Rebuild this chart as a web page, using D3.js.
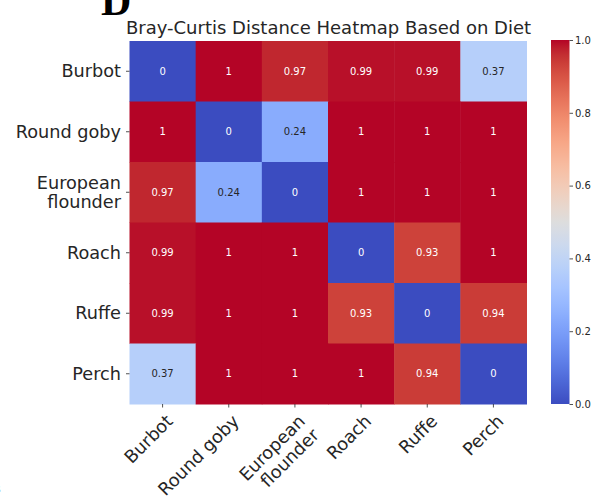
<!DOCTYPE html>
<html><head><meta charset="utf-8">
<script src="https://cdn.jsdelivr.net/npm/d3@7/dist/d3.min.js"></script>
<style>body{margin:0;background:#fff}svg{display:block}</style>
</head><body><svg id="c" width="605" height="498" font-family="DejaVu Sans"></svg>
<script>
const species = ["Burbot","Round goby","European\nflounder","Roach","Ruffe","Perch"];
const rowBurbot    = [0, 1, 0.97, 0.99, 0.99, 0.37];
const rowRoundGoby = [1, 0, 0.24, 1, 1, 1];
const rowFlounder  = [0.97, 0.24, 0, 1, 1, 1];
const rowRoach     = [0.99, 1, 1, 0, 0.93, 1];
const rowRuffe     = [0.99, 1, 1, 0.93, 0, 0.94];
const rowPerch     = [0.37, 1, 1, 1, 0.94, 0];
const matrix = [rowBurbot,rowRoundGoby,rowFlounder,rowRoach,rowRuffe,rowPerch];
const cbTicks = [0,0.2,0.4,0.6,0.8,1.0];
const title = "Bray-Curtis Distance Heatmap Based on Diet";

const coolwarmStops = [[59,76,192],[68,90,204],[77,104,215],[87,117,225],[98,130,234],[108,142,241],[119,154,247],[130,165,251],[141,176,254],[152,185,255],[163,194,255],[174,201,253],[184,208,249],[194,213,244],[204,217,238],[213,219,230],[221,221,221],[229,216,209],[236,211,197],[241,204,184],[245,196,172],[247,187,159],[247,177,147],[247,166,134],[244,154,123],[241,141,111],[236,127,99],[229,112,89],[222,96,77],[213,80,66],[203,62,56],[192,40,47],[180,4,38]];
const cw = d3.piecewise(d3.interpolateRgb, coolwarmStops.map(c=>d3.rgb(c[0],c[1],c[2])));
const color = d3.scaleSequential(cw).domain([0,1]);

const svg = d3.select("#c");
const L=129.5,R=526.5,T=41,B=404;
const idx = d3.range(species.length);
const x = d3.scaleBand().domain(idx).range([L,R]);
const y = d3.scaleBand().domain(idx).range([T,B]);

function lum(c){const f=v=>{v/=255;return v<=0.03928?v/12.92:Math.pow((v+0.055)/1.055,2.4)};const r=d3.rgb(c);return 0.2126*f(r.r)+0.7152*f(r.g)+0.0722*f(r.b);}

const cells = [];
matrix.forEach((row,i)=>row.forEach((v,j)=>cells.push({i,j,v})));
svg.append("g").selectAll("rect").data(cells).join("rect")
  .attr("x",d=>x(d.j)).attr("y",d=>y(d.i))
  .attr("width",x.bandwidth()+0.5).attr("height",y.bandwidth()+0.5)
  .attr("fill",d=>color(d.v));
svg.append("g").selectAll("text").data(cells).join("text")
  .attr("x",d=>x(d.j)+x.bandwidth()/2).attr("y",d=>y(d.i)+y.bandwidth()/2)
  .attr("text-anchor","middle").attr("dominant-baseline","central")
  .attr("font-size",10)
  .attr("fill",d=>lum(color(d.v))>0.408?"#262626":"#ffffff")
  .text(d=>String(d.v));

const FS = 17.7;
// y axis
const gy = svg.append("g");
idx.forEach(i=>{
  const cy = y(i)+y.bandwidth()/2;
  gy.append("line").attr("x1",L-3.5).attr("x2",L).attr("y1",cy).attr("y2",cy).attr("stroke","#262626").attr("stroke-width",0.8);
  const lines = species[i].split("\n");
  const lh = 19.5;
  const t = gy.append("text").attr("text-anchor","end").attr("font-size",FS).attr("fill","#262626");
  lines.forEach((ln,k)=>{
    t.append("tspan").attr("x",L-8.5).attr("y",cy+(k-(lines.length-1)/2)*lh).attr("dominant-baseline","central").text(ln);
  });
});
// x axis
const gx = svg.append("g");
idx.forEach(j=>{
  const cx = x(j)+x.bandwidth()/2;
  gx.append("line").attr("x1",cx).attr("x2",cx).attr("y1",B).attr("y2",B+3.5).attr("stroke","#262626").attr("stroke-width",0.8);
  const lines = species[j].split("\n");
  const g = gx.append("g").attr("transform",`translate(${cx},${B+7}) rotate(-45)`);
  const t = g.append("text").attr("text-anchor","end").attr("font-size",FS).attr("fill","#262626");
  lines.forEach((ln,k)=>{
    t.append("tspan").attr("x",0).attr("y",16+k*19.5).text(ln);
  });
});

// title
svg.append("text").attr("x",(L+R)/2+0.5).attr("y",34).attr("text-anchor","middle").attr("font-size",18).attr("fill","#262626").text(title);

// colorbar
const cbx=551,cbw=18.5;
const cy = d3.scaleLinear().domain([0,1]).range([B,T-1]);
const defs = svg.append("defs");
const grad = defs.append("linearGradient").attr("id","cbg").attr("x1",0).attr("y1",1).attr("x2",0).attr("y2",0);
d3.range(0,1.0001,0.02).forEach(s=>grad.append("stop").attr("offset",s).attr("stop-color",color(s)));
svg.append("rect").attr("x",cbx).attr("y",cy(1)).attr("width",cbw).attr("height",cy(0)-cy(1)).attr("fill","url(#cbg)");
const cbAxis = d3.axisRight(cy).tickValues(cbTicks).tickFormat(d3.format(".1f")).tickSize(3.5).tickPadding(2);
const ga = svg.append("g").attr("transform",`translate(${cbx+cbw},0)`).call(cbAxis);
ga.select(".domain").remove();
ga.selectAll("line").attr("stroke","#262626").attr("stroke-width",0.8);
ga.selectAll("text").attr("font-size",10).attr("fill","#262626").attr("font-family","DejaVu Sans");

// panel letters
svg.append("text").attr("x",101).attr("y",15).style("font-family","'Liberation Serif', serif").attr("font-weight","bold").attr("font-size",42).attr("fill","#000").text("D");
svg.append("text").attr("x",-8).attr("y",493).attr("font-size",13).attr("fill","#262626").text("B");
</script></body></html>
